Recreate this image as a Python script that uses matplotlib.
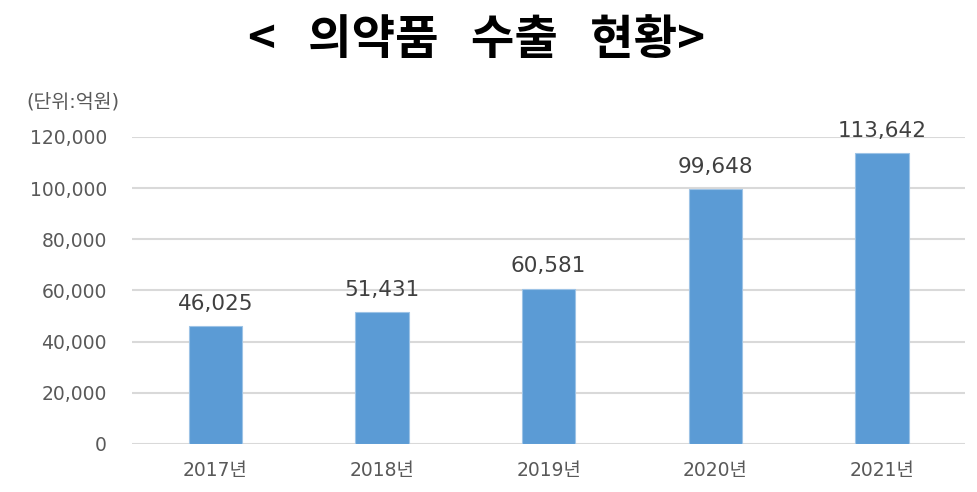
import matplotlib
matplotlib.use('Agg')
import matplotlib.pyplot as plt
from matplotlib.ticker import FuncFormatter

plt.rcParams['font.family'] = ['DejaVu Sans', 'Noto Sans CJK KR']

# === DATA ===
years = ['2017년', '2018년', '2019년', '2020년', '2021년']
exports = [46025, 51431, 60581, 99648, 113642]  # 단위: 억원
y_ticks = [0, 20000, 40000, 60000, 80000, 100000, 120000]

# === PLOT ===
fig = plt.figure(figsize=(9.77, 4.92), dpi=100)
ax = fig.add_axes([0.135, 0.0976, 0.853, 0.624])

x = range(len(years))
bars = ax.bar(x, exports, width=0.32, color='#5B9BD5', edgecolor='#9DC3E6', linewidth=0.8, zorder=3)

# value labels on top of each bar
for bar in bars:
    yval = bar.get_height()
    ax.annotate(f'{yval:,}', (bar.get_x() + bar.get_width() / 2, yval),
                xytext=(0, 9), textcoords='offset points',
                ha='center', va='bottom', fontsize=15.5, color='#404040')

ax.set_xlim(-0.5, len(years) - 0.5)
ax.set_ylim(0, 120000)
ax.set_yticks(y_ticks)
ax.yaxis.set_major_formatter(FuncFormatter(lambda v, p: f'{int(v):,}'))
ax.set_xticks(list(x))
ax.set_xticklabels(years)
ax.grid(axis='y', color='#D9D9D9', linewidth=1.5, zorder=0)
for s in ax.spines.values():
    s.set_visible(False)
ax.tick_params(axis='both', length=0, labelsize=13.5, labelcolor='#595959')
ax.tick_params(axis='y', pad=18)
ax.tick_params(axis='x', pad=12)

fig.text(0.488, 0.919, '<   의약품   수출   현황>', ha='center', va='center',
         fontsize=34, fontweight='bold', color='black', family='Noto Sans CJK KR')
fig.text(0.027, 0.793, '(단위:억원)', ha='left', va='center', fontsize=14, color='#595959')

fig.savefig('out.png', dpi=100)
